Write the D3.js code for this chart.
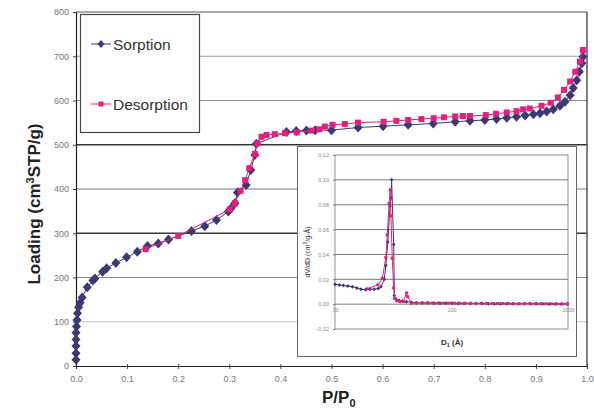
<!DOCTYPE html>
<html>
<head>
<meta charset="utf-8">
<script src="https://cdn.jsdelivr.net/npm/d3@7"></script>
<style>
  body { margin: 0; background: #fff; }
  svg { display: block; font-family: "Liberation Sans", Arial, sans-serif; }
</style>
</head>
<body>
<svg id="chart" width="594" height="409"></svg>
<script>
// main isotherm data (P/P0, loading cm3 STP/g)
var sorptionP = [0.0, 0.0, 0.0, 0.0, 0.0, 0.001, 0.002, 0.003, 0.005, 0.008, 0.012,
  0.022, 0.033, 0.037, 0.052, 0.060, 0.078, 0.099, 0.120, 0.140, 0.161, 0.181, 0.226, 0.252,
  0.275, 0.298, 0.303, 0.311, 0.316, 0.333, 0.342, 0.350, 0.353, 0.412, 0.431, 0.451, 0.468,
  0.500, 0.552, 0.601, 0.650, 0.699, 0.742, 0.771, 0.800, 0.823, 0.843, 0.862, 0.879, 0.895,
  0.908, 0.921, 0.934, 0.947, 0.957, 0.967, 0.973, 0.980, 0.985, 0.990, 0.992];
var sorptionL = [14, 29, 45, 60, 75, 89, 104, 119, 133, 143, 155,
  178, 193, 198, 213, 221, 233, 246, 258, 271, 277, 286, 305, 316,
  330, 349, 356, 368, 392, 409, 443, 477, 502, 529, 531, 532, 533,
  533, 539, 542, 545, 548, 552, 554, 556, 558, 561, 563, 566, 569,
  571, 575, 580, 588, 597, 612, 628, 646, 665, 684, 699];

var desorptionP = [0.992, 0.986, 0.977, 0.967, 0.955, 0.943, 0.929, 0.911, 0.888, 0.875,
  0.862, 0.843, 0.822, 0.802, 0.771, 0.757, 0.742, 0.720, 0.700, 0.676, 0.650, 0.627,
  0.602, 0.552, 0.526, 0.502, 0.487, 0.476, 0.461, 0.432, 0.409, 0.389, 0.373, 0.363,
  0.355, 0.350, 0.339, 0.331, 0.322, 0.311, 0.301, 0.200, 0.136];
var desorptionL = [714, 688, 665, 643, 624, 607, 595, 588, 582, 580,
  576, 573, 570, 567, 565, 565, 564, 562, 560, 558, 556, 554,
  552, 550, 547, 545, 541, 535, 532, 528, 526, 524, 522, 518,
  503, 479, 447, 420, 396, 368, 354, 294, 264];

var xTicks = [0, 0.1, 0.2, 0.3, 0.4, 0.5, 0.6, 0.7, 0.8, 0.9, 1.0];
var yTicks = [0, 100, 200, 300, 400, 500, 600, 700, 800];
var seriesNames = ["Sorption", "Desorption"];

// inset: pore size distribution (D in A, dV/dD)
var insetSorpD = [10, 10.9, 11.8, 12.9, 14.1, 15.4, 16.7, 18.3, 20.0, 21.7, 23.5, 24.8,
  26.5, 27.3, 28.4, 29.7, 30.2, 30.6, 31.9, 32.3, 33.4, 35.5, 38, 41, 45, 50, 56, 63, 71,
  80, 90, 101, 114, 128, 145, 163, 184, 207, 234, 263, 297, 335, 377, 425, 479, 540, 609,
  687, 775, 873, 985];
var insetSorpV = [0.016, 0.0155, 0.015, 0.0145, 0.014, 0.013, 0.012, 0.0115, 0.012, 0.012, 0.0125, 0.014,
  0.020, 0.031, 0.050, 0.079, 0.0855, 0.100, 0.048, 0.007, 0.004, 0.003, 0.0025, 0.002, 0.0015, 0.001, 0.001, 0.001, 0.0008,
  0.0008, 0.0007, 0.0007, 0.0006, 0.0006, 0.0005, 0.0005, 0.0005, 0.0004, 0.0004, 0.0004, 0.0004, 0.0003, 0.0003, 0.0003, 0.0003, 0.0003, 0.0003,
  0.0002, 0.0002, 0.0002, 0.0002];
var insetDesD = [18.9, 23.3, 25.5, 27.3, 28.1, 29.1, 29.8, 30.2, 31.0, 31.9, 32.5, 33.9, 36.1, 38.6,
  41.2, 42.0, 45.5, 50, 56, 62, 69, 77, 86, 95, 106, 118, 131, 146, 162, 180, 200, 223, 248,
  276, 307, 341, 380, 422, 470, 523, 582, 647, 720, 801, 891, 991];
var insetDesV = [0.0123, 0.0155, 0.0207, 0.0375, 0.0557, 0.081, 0.092, 0.071, 0.037, 0.0131, 0.0046, 0.0027, 0.0021, 0.0021,
  0.009, 0.006, 0.0008, 0.001, 0.001, 0.001, 0.0009, 0.0009, 0.0008, 0.0008, 0.0008, 0.0007, 0.0007, 0.0007, 0.0006, 0.0006, 0.0006, 0.0005, 0.0005,
  0.0005, 0.0005, 0.0004, 0.0004, 0.0004, 0.0004, 0.0003, 0.0003, 0.0003, 0.0003, 0.0003, 0.0002, 0.0002];
var insetXTicks = [10, 100, 1000];
var insetYTicks = [-0.02, 0, 0.02, 0.04, 0.06, 0.08, 0.10, 0.12];

var navy = "#3c3975";
var pink = "#e61f7d";

var svg = d3.select("#chart");

var x = d3.scaleLinear().domain([0, 1]).range([76, 587]);
var y = d3.scaleLinear().domain([0, 800]).range([366, 12]);

// gridlines (scan has uneven darkness)
var gridColor = {100: "#c4c4c4", 200: "#8a8a8a", 300: "#3a3a3a", 400: "#7a7a7a", 500: "#333", 600: "#8c8c8c", 700: "#a0a0a0", 800: "#555"};
svg.append("g").selectAll("line")
  .data(yTicks.filter(function(d) { return d > 0; }))
  .enter().append("line")
  .attr("x1", x(0)).attr("x2", x(1))
  .attr("y1", function(d) { return y(d); })
  .attr("y2", function(d) { return y(d); })
  .attr("stroke", function(d) { return gridColor[d]; })
  .attr("stroke-width", function(d) { return (d == 300 || d == 500) ? 1.5 : 1; });

// right frame
svg.append("line")
  .attr("x1", x(1)).attr("x2", x(1)).attr("y1", y(800)).attr("y2", y(0))
  .attr("stroke", "#555").attr("stroke-width", 1.5);

// axes
var xAxis = d3.axisBottom(x).tickValues(xTicks).tickFormat(d3.format(".1f")).tickSize(3);
var yAxis = d3.axisLeft(y).tickValues(yTicks).tickFormat(d3.format("d")).tickSize(3);

var gx = svg.append("g").attr("transform", "translate(0," + y(0) + ")").call(xAxis);
gx.select(".domain").attr("stroke", "#222").attr("stroke-width", 1.2);
gx.selectAll(".tick line").attr("stroke", "#444").attr("y1", -2).attr("y2", 3);
gx.selectAll("text").attr("font-size", 9).attr("fill", "#777").attr("dy", "1.1em")
  .attr("font-family", "Liberation Sans, Arial, sans-serif");

var gy = svg.append("g").attr("transform", "translate(" + x(0) + ",0)").call(yAxis);
gy.select(".domain").attr("stroke", "#222").attr("stroke-width", 1.2);
gy.selectAll(".tick line").attr("stroke", "#444");
gy.selectAll("text").attr("font-size", 9).attr("fill", "#777").attr("x", -7)
  .attr("font-family", "Liberation Sans, Arial, sans-serif");

// axis titles
svg.append("text")
  .attr("transform", "translate(40,204) rotate(-90)")
  .attr("text-anchor", "middle")
  .attr("font-size", 17).attr("font-weight", "bold").attr("fill", "#222")
  .html("Loading (cm<tspan font-size='11' dy='-6'>3</tspan><tspan dy='6'>STP/g)</tspan>");

svg.append("text")
  .attr("x", 322).attr("y", 403)
  .attr("font-size", 17).attr("font-weight", "bold").attr("fill", "#222")
  .html("P/P<tspan font-size='11' dy='3.5'>0</tspan>");

// markers
var diamond = "M0,-5L4.5,0L0,5L-4.5,0Z";
var square = "M-3,-3L3,-3L3,3L-3,3Z";

function drawSeries(g, xs, ys, xScale, yScale, color, shape) {
  var pts = xs.map(function(d, i) { return [d, ys[i]]; });
  var line = d3.line()
    .x(function(d) { return xScale(d[0]); })
    .y(function(d) { return yScale(d[1]); });
  g.append("path").datum(pts)
    .attr("d", line).attr("fill", "none")
    .attr("stroke", color).attr("stroke-width", 1);
  g.append("g").selectAll("path")
    .data(pts).enter().append("path")
    .attr("d", shape)
    .attr("transform", function(d) { return "translate(" + xScale(d[0]) + "," + yScale(d[1]) + ")"; })
    .attr("fill", color);
}

var main = svg.append("g");
drawSeries(main, sorptionP, sorptionL, x, y, navy, diamond);
drawSeries(main, desorptionP, desorptionL, x, y, pink, square);

// legend
var legend = svg.append("g");
legend.append("rect")
  .attr("x", 80.5).attr("y", 14.5).attr("width", 119).attr("height", 118)
  .attr("fill", "#fff").attr("stroke", "#444").attr("stroke-width", 1.2);
var legendY = [44, 104];
var legendColors = [navy, pink];
var legendShapes = ["M0,-4L3.5,0L0,4L-3.5,0Z", "M-2.5,-2.5L2.5,-2.5L2.5,2.5L-2.5,2.5Z"];
seriesNames.forEach(function(name, i) {
  legend.append("line")
    .attr("x1", 91).attr("x2", 111).attr("y1", legendY[i]).attr("y2", legendY[i])
    .attr("stroke", legendColors[i]).attr("stroke-width", 1);
  legend.append("path").attr("d", legendShapes[i])
    .attr("transform", "translate(101," + legendY[i] + ")")
    .attr("fill", legendColors[i]);
  legend.append("text")
    .attr("x", 113).attr("y", legendY[i] + 5.5)
    .attr("font-size", 15.5).attr("fill", "#333")
    .text(name);
});

// inset chart
var inset = svg.append("g");
inset.append("rect")
  .attr("x", 297.5).attr("y", 146.5).attr("width", 279).attr("height", 210)
  .attr("fill", "#fff").attr("stroke", "#666").attr("stroke-width", 1);

var ix = d3.scaleLog().domain([10, 1000]).range([335, 568]);
var iy = d3.scaleLinear().domain([-0.02, 0.12]).range([329, 155]);

inset.append("g").selectAll("line")
  .data(insetYTicks.filter(function(d) { return d > -0.02 && d < 0.12; }))
  .enter().append("line")
  .attr("x1", ix(10)).attr("x2", ix(1000))
  .attr("y1", function(d) { return iy(d); })
  .attr("y2", function(d) { return iy(d); })
  .attr("stroke", "#555").attr("stroke-width", 0.8);

inset.append("rect")
  .attr("x", ix(10)).attr("y", iy(0.12))
  .attr("width", ix(1000) - ix(10)).attr("height", iy(-0.02) - iy(0.12))
  .attr("fill", "none").attr("stroke", "#777").attr("stroke-width", 0.8);

var iyAxis = d3.axisLeft(iy).tickValues(insetYTicks).tickFormat(d3.format(".2f")).tickSize(2);
var giy = inset.append("g").attr("transform", "translate(" + ix(10) + ",0)").call(iyAxis);
giy.select(".domain").remove();
giy.selectAll(".tick line").attr("stroke", "#777");
giy.selectAll("text").attr("font-size", 5.5).attr("fill", "#888").attr("x", -6)
  .attr("font-family", "Liberation Sans, Arial, sans-serif");

var ixAxis = d3.axisBottom(ix).tickValues(insetXTicks).tickFormat(d3.format("d")).tickSize(0);
var gix = inset.append("g").attr("transform", "translate(0," + iy(0) + ")").call(ixAxis);
gix.select(".domain").remove();
gix.selectAll("text").attr("font-size", 5.5).attr("fill", "#888").attr("dy", "0.9em")
  .attr("font-family", "Liberation Sans, Arial, sans-serif");

inset.append("text")
  .attr("transform", "translate(310,252) rotate(-90)")
  .attr("text-anchor", "middle")
  .attr("font-size", 7).attr("fill", "#333")
  .html("dV/dD (cm<tspan font-size='5' dy='-3'>3</tspan><tspan dy='3'>/g-Å)</tspan>");

inset.append("text")
  .attr("x", 452).attr("y", 345)
  .attr("text-anchor", "middle")
  .attr("font-size", 8).attr("font-weight", "bold").attr("fill", "#333")
  .html("D<tspan font-size='5.5' dy='2'>1</tspan><tspan dy='-2'> (Å)</tspan>");

var smallDiamond = "M0,-2L1.8,0L0,2L-1.8,0Z";
var smallSquare = "M-1.5,-1.5L1.5,-1.5L1.5,1.5L-1.5,1.5Z";
drawSeries(inset, insetSorpD, insetSorpV, ix, iy, navy, smallDiamond);
drawSeries(inset, insetDesD, insetDesV, ix, iy, pink, smallSquare);
</script>
</body>
</html>
